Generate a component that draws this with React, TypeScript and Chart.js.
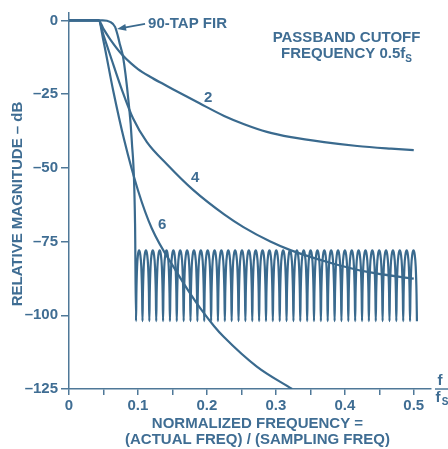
import { useEffect, useRef } from 'react';
import { Chart, registerables } from 'chart.js';

Chart.register(...registerables);

// ---------- data ----------
const xTickValues = [0, 0.05, 0.1, 0.15, 0.2, 0.25, 0.3, 0.35, 0.4, 0.45, 0.5];
const xTickLabels = ['0', '', '0.1', '', '0.2', '', '0.3', '', '0.4', '', '0.5'];
const yTickValues = [0, -25, -50, -75, -100, -125];
const yTickLabels = ['0', '–25', '–50', '–75', '–100', '–125'];

// 90-tap FIR: passband + transition
const firFreq = [0, 0.045, 0.049, 0.0595, 0.0668, 0.0711, 0.074, 0.0784, 0.0861, 0.091, 0.0958];
const firDb = [0, 0, 0, -0.5, -2.2, -5.5, -8.3, -12.4, -27, -40.6, -69];

// 90-tap FIR: stopband ripple (nulls and peaks)
const rippleNullFreq = [
  0.0972, 0.1066, 0.1165, 0.1265, 0.1364, 0.1464, 0.1563, 0.1663, 0.1762, 0.1862, 0.1961,
  0.2061, 0.216, 0.226, 0.2359, 0.2459, 0.2558, 0.2658, 0.2757, 0.2857, 0.2956,
  0.3056, 0.3155, 0.3255, 0.3354, 0.3454, 0.3553, 0.3653, 0.3752, 0.3852, 0.3951,
  0.4051, 0.415, 0.425, 0.4349, 0.4449, 0.4548, 0.4648, 0.4747, 0.4847, 0.4946, 0.5046,
];
const ripplePeakFreq = [
  0.1016, 0.1116, 0.1215, 0.1315, 0.1414, 0.1514, 0.1613, 0.1713, 0.1812, 0.1912,
  0.2011, 0.2111, 0.221, 0.231, 0.2409, 0.2509, 0.2608, 0.2708, 0.2807, 0.2907,
  0.3006, 0.3106, 0.3205, 0.3305, 0.3404, 0.3504, 0.3603, 0.3703, 0.3802, 0.3902,
  0.4001, 0.4101, 0.42, 0.43, 0.4399, 0.4499, 0.4598, 0.4698, 0.4797, 0.4897, 0.4996,
];
const ripplePeakDb = -78;
const rippleNullDb = -102;
// lobe shape: fraction of the way from null to peak, and level below the peak (dB)
const lobeShapeFrac = [0.12, 0.35, 0.65];
const lobeShapeDb = [-14.5, -5.6, -1.4];

// analog filters, orders 2, 4, 6
const order2Freq = [0, 0.043, 0.05, 0.06, 0.0765, 0.09, 0.1, 0.1176, 0.132, 0.161, 0.19, 0.225, 0.254, 0.287, 0.322, 0.37, 0.418, 0.467, 0.5];
const order2Db = [0, 0, -2.9, -6.5, -11.5, -14.6, -16.5, -19.1, -21.0, -24.6, -28.2, -32.4, -35.2, -37.8, -39.6, -41.3, -42.6, -43.5, -44.0];

const order4Freq = [0, 0.043, 0.05, 0.06, 0.0765, 0.093, 0.113, 0.142, 0.18, 0.225, 0.253, 0.292, 0.322, 0.385, 0.433, 0.5];
const order4Db = [0, 0, -5.0, -12.0, -23.4, -33.3, -41.3, -48.8, -57.5, -65.8, -70.1, -75.0, -78.0, -82.6, -85.3, -87.6];

const order6Freq = [0, 0.043, 0.05, 0.0639, 0.08, 0.1, 0.12, 0.156, 0.1756, 0.19, 0.2105, 0.224, 0.2724, 0.3235];
const order6Db = [0, 0, -7, -23.6, -40.5, -57.6, -70.5, -85.3, -92.6, -97.5, -103.7, -107.2, -117.4, -125];

const seriesLabels = ['2', '4', '6'];
const seriesLabelFreq = [0.2017, 0.183, 0.135];
const seriesLabelDb = [-26.3, -53.3, -69.5];

// ---------- styles ----------
const LINE = '#3a6a8e';
const TEXT = '#3f6d93';
const AXIS = '#4f7898';
const FAMILY = '"Liberation Sans", Arial, Helvetica, sans-serif';
const FONT = `bold 15px ${FAMILY}`;

const pts = (xs: number[], ys: number[]) => xs.map((v, i) => ({ x: v, y: ys[i] }));

function buildFir() {
  const out = pts(firFreq, firDb);
  for (let i = 0; i < ripplePeakFreq.length; i++) {
    const n0 = rippleNullFreq[i];
    const p = ripplePeakFreq[i];
    const n1 = rippleNullFreq[i + 1];
    out.push({ x: n0, y: rippleNullDb });
    for (let j = 0; j < lobeShapeFrac.length; j++) {
      out.push({ x: n0 + lobeShapeFrac[j] * (p - n0), y: ripplePeakDb + lobeShapeDb[j] });
    }
    out.push({ x: p, y: ripplePeakDb });
    for (let j = lobeShapeFrac.length - 1; j >= 0; j--) {
      out.push({ x: n1 - lobeShapeFrac[j] * (n1 - p), y: ripplePeakDb + lobeShapeDb[j] });
    }
  }
  out.push({ x: rippleNullFreq[rippleNullFreq.length - 1], y: rippleNullDb });
  return out;
}

const annotate = {
  id: 'annotate',
  afterDraw(chart: any) {
    const { ctx, chartArea } = chart;
    const xs = chart.scales.x;
    const ys = chart.scales.y;
    const px = (v: number) => xs.getPixelForValue(v);
    const py = (v: number) => ys.getPixelForValue(v);
    ctx.save();
    ctx.fillStyle = TEXT;
    ctx.strokeStyle = LINE;
    ctx.font = FONT;
    ctx.textAlign = 'center';
    ctx.textBaseline = 'middle';

    seriesLabels.forEach((t, i) => ctx.fillText(t, px(seriesLabelFreq[i]), py(seriesLabelDb[i])));

    // 90-TAP FIR label + arrow
    ctx.textAlign = 'left';
    ctx.fillText('90-TAP FIR', px(0.1147), py(-1.2));
    const tx = px(0.1103), ty = py(-1.2);
    const hx = px(0.0697), hy = py(-2.9);
    const ang = Math.atan2(hy - ty, hx - tx);
    ctx.lineWidth = 1.6;
    ctx.beginPath();
    ctx.moveTo(tx, ty);
    ctx.lineTo(hx - Math.cos(ang) * 6, hy - Math.sin(ang) * 6);
    ctx.stroke();
    ctx.fillStyle = LINE;
    ctx.beginPath();
    ctx.moveTo(hx, hy);
    ctx.lineTo(hx - Math.cos(ang) * 9 + Math.sin(ang) * 3.5, hy - Math.sin(ang) * 9 - Math.cos(ang) * 3.5);
    ctx.lineTo(hx - Math.cos(ang) * 9 - Math.sin(ang) * 3.5, hy - Math.sin(ang) * 9 + Math.cos(ang) * 3.5);
    ctx.closePath();
    ctx.fill();
    ctx.fillStyle = TEXT;

    // passband cutoff note
    ctx.textAlign = 'center';
    const cx = px(0.4025);
    ctx.fillText('PASSBAND CUTOFF', cx, py(-5.8));
    const main = 'FREQUENCY 0.5f';
    const mw = ctx.measureText(main).width;
    ctx.font = `bold 10px ${FAMILY}`;
    const sw = ctx.measureText('S').width;
    ctx.font = FONT;
    const startX = cx - (mw + sw) / 2;
    ctx.textAlign = 'left';
    const l2y = py(-11.4);
    ctx.fillText(main, startX, l2y);
    ctx.font = `bold 10px ${FAMILY}`;
    ctx.fillText('S', startX + mw, l2y + 5);

    // f / fS at the end of x axis
    const axisY = py(-125);
    const fx = chartArea.right + 9;
    ctx.font = FONT;
    ctx.textAlign = 'center';
    ctx.fillText('f', fx, axisY - 8);
    ctx.fillText('f', fx - 2, axisY + 9);
    ctx.font = `bold 10px ${FAMILY}`;
    ctx.fillText('S', fx + 5, axisY + 13);
    ctx.strokeStyle = AXIS;
    ctx.lineWidth = 1.5;
    ctx.beginPath();
    ctx.moveTo(chartArea.right + 4, axisY);
    ctx.lineTo(chartArea.right + 17, axisY);
    ctx.stroke();

    // axis titles
    ctx.font = FONT;
    ctx.textAlign = 'center';
    ctx.fillText('NORMALIZED FREQUENCY =', 257.5, 424);
    ctx.fillText('(ACTUAL FREQ) / (SAMPLING FREQ)', 257.5, 440);
    ctx.translate(17.5, 204);
    ctx.rotate(-Math.PI / 2);
    ctx.fillText('RELATIVE MAGNITUDE – dB', 0, 0);
    ctx.restore();
  },
};

export default function App() {
  const ref = useRef<HTMLCanvasElement>(null);
  useEffect(() => {
    document.body.style.margin = '0';
    const lineDs = (data: any[]) => ({
      data,
      borderColor: LINE,
      borderWidth: 2.2,
      pointRadius: 0,
      cubicInterpolationMode: 'monotone' as const,
      fill: false,
    });
    const chart = new Chart(ref.current!, {
      type: 'line',
      data: {
        datasets: [
          lineDs(buildFir()),
          lineDs(pts(order2Freq, order2Db)),
          lineDs(pts(order4Freq, order4Db)),
          lineDs(pts(order6Freq, order6Db)),
        ],
      },
      options: {
        responsive: false,
        animation: false,
        layout: { padding: { top: 13, right: 17, left: 0, bottom: 0 } },
        plugins: { legend: { display: false }, tooltip: { enabled: false } },
        scales: {
          x: {
            type: 'linear',
            min: 0,
            max: 0.525,
            afterBuildTicks: (s: any) => { s.ticks = xTickValues.map((v) => ({ value: v })); },
            afterFit: (s: any) => { s.height = 60; },
            ticks: {
              callback: (_v: any, i: number) => xTickLabels[i],
              font: { family: FAMILY, size: 15, weight: 'bold' },
              color: TEXT,
              padding: 2,
              maxRotation: 0,
              autoSkip: false,
            },
            grid: { drawOnChartArea: false, drawTicks: true, tickLength: 6, color: AXIS, lineWidth: 1.5 },
            border: { display: true, color: AXIS, width: 1.5 },
          },
          y: {
            type: 'linear',
            min: -125,
            max: 2.5,
            afterBuildTicks: (s: any) => { s.ticks = yTickValues.map((v) => ({ value: v })); },
            afterFit: (s: any) => { s.width = 69; },
            ticks: {
              callback: (_v: any, i: number) => yTickLabels[i],
              font: { family: FAMILY, size: 15, weight: 'bold' },
              color: TEXT,
              padding: 3,
              autoSkip: false,
            },
            grid: { drawOnChartArea: false, drawTicks: true, tickLength: 8, color: AXIS, lineWidth: 1.5 },
            border: { display: true, color: AXIS, width: 1.5 },
          },
        },
      },
      plugins: [annotate],
    });
    return () => chart.destroy();
  }, []);
  return (
    <div style={{ position: 'fixed', left: 0, top: 0, width: 448, height: 449, background: '#fff' }}>
      <canvas ref={ref} width={448} height={449} style={{ display: 'block' }} />
    </div>
  );
}
